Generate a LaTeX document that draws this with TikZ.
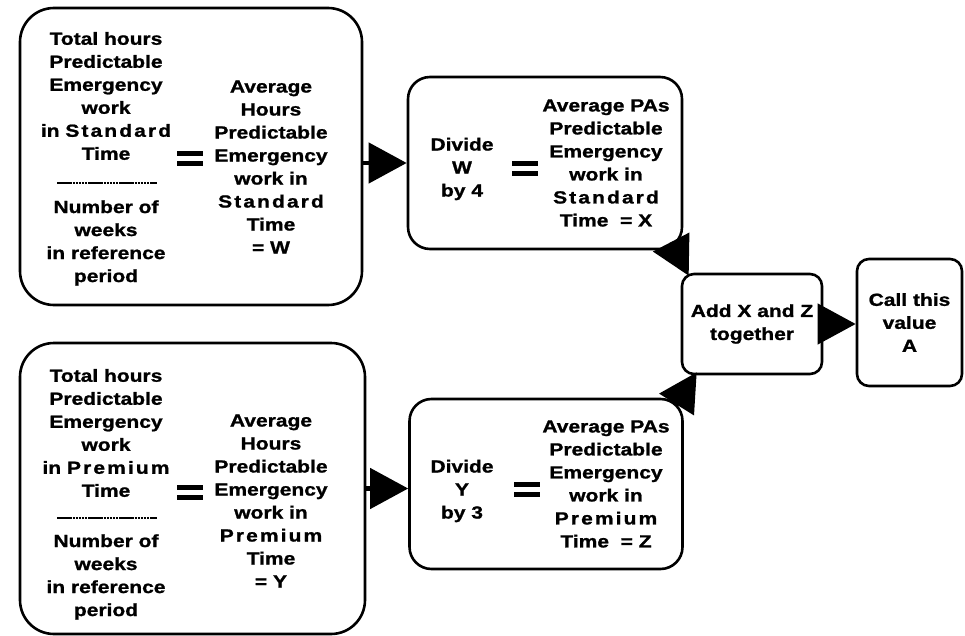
\documentclass[tikz,border=0pt]{standalone}
\usepackage{fontspec}
\newfontfamily\boxfont{Liberation Sans}[FakeStretch=1.2, BoldFeatures={FakeBold=1.2}]
\usetikzlibrary{arrows.meta}
\newcommand{\widetxt}[1]{{\addfontfeature{LetterSpace=12}#1}}

\begin{document}
\begin{tikzpicture}[x=1pt, y=-1pt,
	txt/.style={align=center, inner sep=0pt, font=\boxfont\bfseries\fontsize{17.5}{23}\selectfont},
	box/.style={txt, draw, line width=2.6pt},
	bigbox/.style={box, rounded corners=34pt},
	midbox/.style={box, rounded corners=22pt},
	smallbox/.style={box, rounded corners=12pt},
	arr/.style={line width=4.5pt, -{Triangle[length=38pt, width=40pt]}},
	fracline/.style={line width=2.2pt, dash pattern=on 2.5pt off 0.6pt}]
		\useasboundingbox (0,0) rectangle (965,636);
		
		\node[bigbox, minimum width=342pt, minimum height=297pt] (stdhours) at (191,156.5) {};
		\node[bigbox, minimum width=345pt, minimum height=291pt] (premhours) at (192.5,488.5) {};
		\node[midbox, minimum width=274pt, minimum height=172pt] (stddiv) at (545,163) {};
		\node[midbox, minimum width=273pt, minimum height=170pt] (premdiv) at (546,484) {};
		\node[smallbox, minimum width=140pt, minimum height=100pt] (addxz) at (752,324) {Add X and Z\\together};
		\node[smallbox, minimum width=105pt, minimum height=127pt] (valuea) at (909.5,322.5) {Call this\\value\\A};
		
		\node[txt] (stdtop) at (106,96) {Total hours\\Predictable\\Emergency\\work\\in \widetxt{Standard}\\Time};
		\node[txt] (stdweeks) at (106,243) {Number of\\weeks\\in reference\\period};
		\node[txt] (stdavg) at (271,167) {Average\\Hours\\Predictable\\Emergency\\work in\\\widetxt{Standard}\\Time\\= W};
		
		\node[txt] (premtop) at (106,433) {Total hours\\Predictable\\Emergency\\work\\in \widetxt{Premium}\\Time};
		\node[txt] (premweeks) at (106,577) {Number of\\weeks\\in reference\\period};
		\node[txt] (premavg) at (271,501) {Average\\Hours\\Predictable\\Emergency\\work in\\\widetxt{Premium}\\Time\\= Y};
		
		\node[txt] (stdby) at (462,169) {Divide\\W\\by 4};
		\node[txt] (stdpas) at (606,163) {Average PAs\\Predictable\\Emergency\\work in\\\widetxt{Standard}\\Time~ = X};
		\node[txt] (premby) at (462,491) {Divide\\Y\\by 3};
		\node[txt] (prempas) at (606,484) {Average PAs\\Predictable\\Emergency\\work in\\\widetxt{Premium}\\Time~ = Z};
		
		\foreach \cy in {183,518}
			\draw[fracline] (57,\cy) -- (157,\cy);
		
		\foreach \cx/\cy in {190/158.5, 190/492.5, 525/169, 527/489} {
			\fill (\cx-13,\cy-7.5) rectangle ++(26,5);
			\fill (\cx-13,\cy+2.5) rectangle ++(26,5);
		}
		
		\draw[arr] (stdhours.east |- stddiv.west) -- (stddiv.west);
		\draw[arr] (premhours.east) -- (premhours.east -| premdiv.west);
		\draw[arr] ([xshift=-12pt,yshift=8pt]stddiv.south east) -- ([xshift=8pt,yshift=-3pt]addxz.north west);
		\draw[arr] ([xshift=-8pt,yshift=-8pt]premdiv.north east) -- ([xshift=16pt,yshift=3pt]addxz.south west);
		\draw[arr] (addxz.east) -- (addxz.east -| valuea.west);
		\end{tikzpicture}
\end{document}
